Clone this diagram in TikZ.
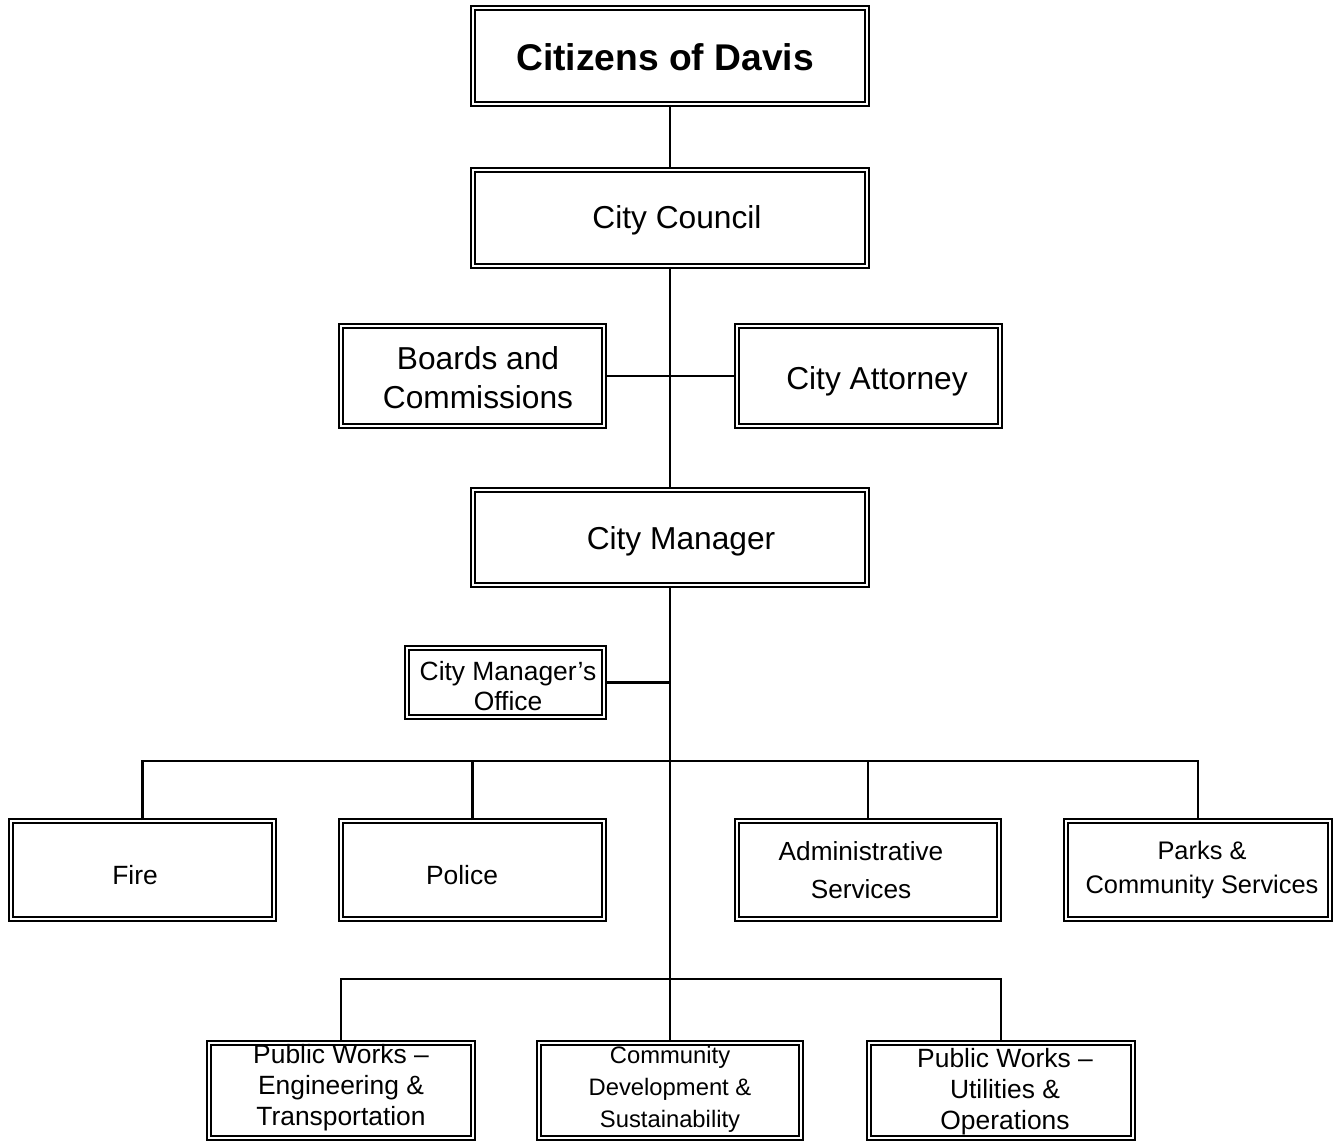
\documentclass[tikz,border=0pt]{standalone}
\usepackage{fontspec}
\setmainfont{Liberation Sans}
\begin{document}
\begin{tikzpicture}[x=0.5pt,y=-0.5pt,
  box/.style={draw, double, double distance=1pt, line width=1pt, inner sep=0pt, fill=white},
  conn/.style={line width=1.1pt},
  bigtxt/.style={font=\fontsize{15.85pt}{19.5pt}\selectfont, align=center, inner sep=0pt},
  smalltxt/.style={font=\fontsize{13.2pt}{15.5pt}\selectfont, align=center, inner sep=0pt}]
\useasboundingbox[fill=white] (0,0) rectangle (1338,1143);

% boxes
\node[box, minimum width=197pt, minimum height=48pt] (cit) at (670,56) {};
\node[box, minimum width=197pt, minimum height=48pt] (cc) at (670,218) {};
\node[box, minimum width=131.5pt, minimum height=50pt] (boards) at (472.5,376) {};
\node[box, minimum width=131.5pt, minimum height=50pt] (att) at (868.5,376) {};
\node[box, minimum width=197pt, minimum height=47.5pt] (cm) at (670,537.5) {};
\node[box, minimum width=98.5pt, minimum height=34.5pt] (cmo) at (505.5,682.5) {};
\node[box, minimum width=131.5pt, minimum height=49pt] (fire) at (142.5,870) {};
\node[box, minimum width=131.5pt, minimum height=49pt] (police) at (472.5,870) {};
\node[box, minimum width=131pt, minimum height=49pt] (admin) at (868,870) {};
\node[box, minimum width=132pt, minimum height=49pt] (parks) at (1198,870) {};
\node[box, minimum width=132pt, minimum height=47.5pt] (pwe) at (341,1090.5) {};
\node[box, minimum width=131pt, minimum height=47.5pt] (cds) at (670,1090.5) {};
\node[box, minimum width=132pt, minimum height=47.5pt] (pwu) at (1001,1090.5) {};

% texts
\node[font=\fontsize{18.6pt}{22pt}\selectfont\bfseries, inner sep=0pt] (cit-t) at (665,57) {Citizens of Davis};
\node[bigtxt] (cc-t) at (677,220) {City Council};
\node[bigtxt] (boards-t) at (478,378) {Boards and\\Commissions};
\node[bigtxt] (att-t) at (877,381) {City Attorney};
\node[bigtxt] (cm-t) at (681,541) {City Manager};
\node[smalltxt, font=\fontsize{13.2pt}{15pt}\selectfont] (cmo-t) at (508,686) {City Manager’s\\Office};
\node[smalltxt] (fire-t) at (135,875) {Fire};
\node[smalltxt] (police-t) at (462,875) {Police};
\node[smalltxt, font=\fontsize{13.1pt}{19pt}\selectfont] (admin-t) at (861,870) {Administrative\\Services};
\node[smalltxt, font=\fontsize{12.7pt}{17pt}\selectfont] (parks-t) at (1202,870) {Parks \&\\Community Services};
\node[smalltxt] (pwe-t) at (341,1088) {Public Works –\\Engineering \&\\Transportation};
\node[smalltxt, font=\fontsize{11.9pt}{16pt}\selectfont] (cds-t) at (670,1089) {Community\\Development \&\\Sustainability};
\node[smalltxt] (pwu-t) at (1005,1092) {Public Works –\\Utilities \&\\Operations};

% connectors
\coordinate (bus1) at (670,761);
\coordinate (bus2) at (670,979);
\draw[conn] (cit.south) -- (cc.north);
\draw[conn] (cc.south) -- (cm.north);
\draw[conn] (boards.east) -- (att.west);
\draw[conn] (cm.south) -- (cds.north);
\draw[conn] (cmo.east) -- (cmo.east -| cm.south);
\draw[conn] (fire.north) |- (parks.north |- bus1) -- (parks.north);
\draw[conn] (police.north) -- (police.north |- bus1);
\draw[conn] (admin.north) -- (admin.north |- bus1);
\draw[conn] (pwe.north) |- (pwu.north |- bus2) -- (pwu.north);
\end{tikzpicture}
\end{document}
